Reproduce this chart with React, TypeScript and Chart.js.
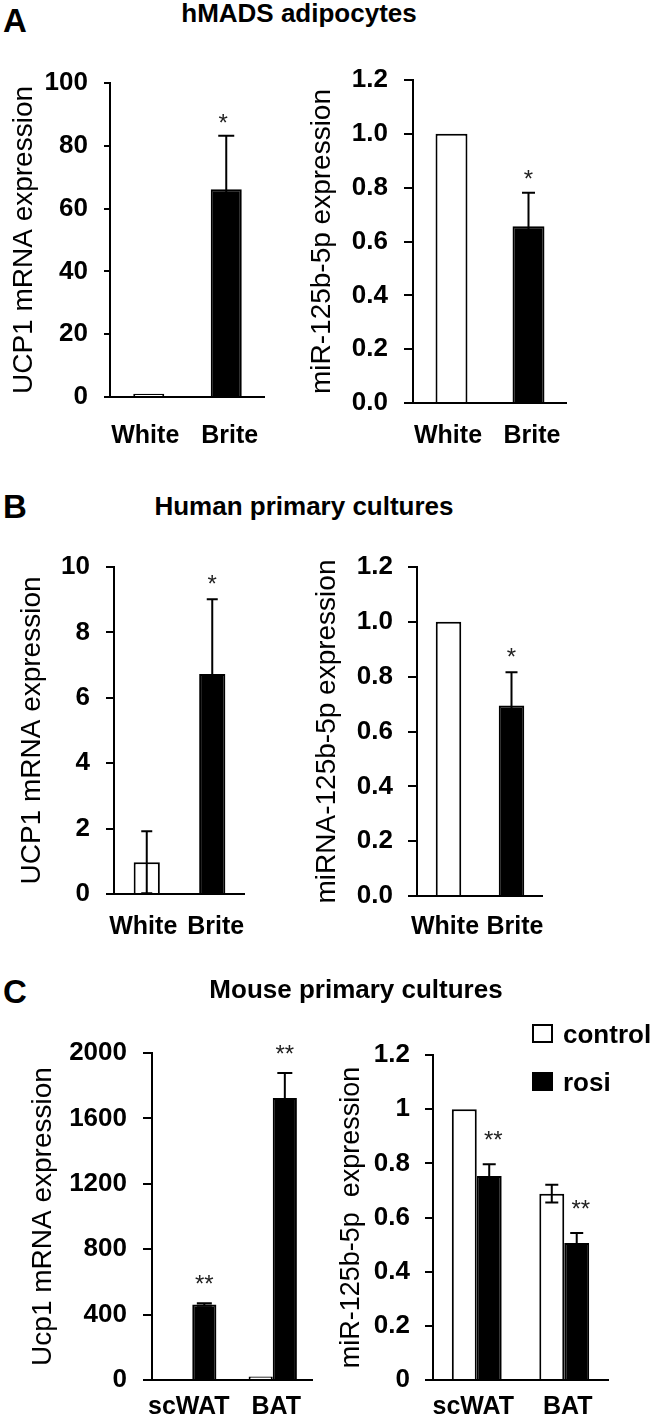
import React, { useEffect, useRef } from "react";
import { Chart, registerables } from "chart.js";

Chart.register(...registerables);

const FONT = "'Liberation Sans', Arial, Helvetica, sans-serif";

// ---------- data ----------
const CATS_WB = ["White", "Brite"];
const CATS_TISSUE = ["scWAT", "BAT"];

const A_UCP1 = [1, 66.2];
const A_UCP1_ERR = [0, 17];
const A_UCP1_SIG = ["", "*"];
const A_UCP1_TICKS = [0, 20, 40, 60, 80, 100];
const A_UCP1_TICK_LABELS = ["0", "20", "40", "60", "80", "100"];

const A_MIR = [1.0, 0.657];
const A_MIR_ERR = [0, 0.124];
const A_MIR_SIG = ["", "*"];

const B_UCP1 = [0.97, 6.73];
const B_UCP1_ERR = [0.95, 2.28];
const B_UCP1_SIG = ["", "*"];
const B_UCP1_TICKS = [0, 2, 4, 6, 8, 10];
const B_UCP1_TICK_LABELS = ["0", "2", "4", "6", "8", "10"];

const B_MIR = [1.0, 0.695];
const B_MIR_ERR = [0, 0.121];
const B_MIR_SIG = ["", "*"];

const MIR_TICKS = [0, 0.2, 0.4, 0.6, 0.8, 1.0, 1.2];
const MIR_TICK_LABELS_1DP = ["0.0", "0.2", "0.4", "0.6", "0.8", "1.0", "1.2"];
const MIR_TICK_LABELS_C = ["0", "0.2", "0.4", "0.6", "0.8", "1", "1.2"];

const C_UCP1_CONTROL = [6, 22];
const C_UCP1_CONTROL_ERR = [0, 0];
const C_UCP1_CONTROL_SIG = ["", ""];
const C_UCP1_ROSI = [462, 1725];
const C_UCP1_ROSI_ERR = [8, 153];
const C_UCP1_ROSI_SIG = ["**", "**"];
const C_UCP1_TICKS = [0, 400, 800, 1200, 1600, 2000];
const C_UCP1_TICK_LABELS = ["0", "400", "800", "1200", "1600", "2000"];

const C_MIR_CONTROL = [1.0, 0.688];
const C_MIR_CONTROL_ERR = [0, 0.033];
const C_MIR_CONTROL_SIG = ["", ""];
const C_MIR_ROSI = [0.753, 0.506];
const C_MIR_ROSI_ERR = [0.044, 0.037];
const C_MIR_ROSI_SIG = ["**", "**"];

const SERIES_NAMES = ["control", "rosi"];

// ---------- plugins ----------
const errorBarPlugin = {
  id: "errorBars",
  afterDatasetsDraw(chart: any, _a: any, opts: any) {
    const ctx = chart.ctx;
    const y = chart.scales.y;
    const cap = opts.cap || 14;
    chart.data.datasets.forEach((ds: any, i: number) => {
      const meta = chart.getDatasetMeta(i);
      meta.data.forEach((el: any, j: number) => {
        const e = ds.err ? ds.err[j] : 0;
        if (!e) return;
        const v = ds.data[j];
        const yt = y.getPixelForValue(v + e);
        const yb = y.getPixelForValue(Math.max(v - e, 0));
        ctx.save();
        ctx.strokeStyle = "#000";
        ctx.lineWidth = 2;
        ctx.beginPath();
        ctx.moveTo(el.x, yb);
        ctx.lineTo(el.x, yt);
        ctx.moveTo(el.x - cap / 2, yt);
        ctx.lineTo(el.x + cap / 2, yt);
        ctx.moveTo(el.x - cap / 2, yb);
        ctx.lineTo(el.x + cap / 2, yb);
        ctx.stroke();
        ctx.restore();
      });
    });
  },
};

const sigPlugin = {
  id: "sigMarks",
  afterDatasetsDraw(chart: any, _a: any, opts: any) {
    const ctx = chart.ctx;
    const y = chart.scales.y;
    const fs = opts.size || 24;
    chart.data.datasets.forEach((ds: any, i: number) => {
      const meta = chart.getDatasetMeta(i);
      meta.data.forEach((el: any, j: number) => {
        const s = ds.sig ? ds.sig[j] : "";
        if (!s) return;
        const v = ds.data[j] + (ds.err ? ds.err[j] : 0);
        const cy = y.getPixelForValue(v) - (opts.gap || 20);
        ctx.save();
        ctx.fillStyle = "#222";
        ctx.font = `${fs}px ${FONT}`;
        ctx.textAlign = "center";
        ctx.textBaseline = "alphabetic";
        ctx.fillText(s, el.x + (opts.dx || 0), cy + 0.575 * fs);
        ctx.restore();
      });
    });
  },
};

const boxLegendPlugin = {
  id: "boxLegend",
  afterDraw(chart: any, _a: any, opts: any) {
    if (!opts || !opts.show) return;
    const { ctx, chartArea } = chart;
    chart.data.datasets.forEach((ds: any, i: number) => {
      const base = chartArea.top + opts.rows[i];
      const bx = chartArea.right + opts.dx;
      ctx.save();
      ctx.fillStyle = ds.backgroundColor;
      ctx.fillRect(bx, base - 18, 19, 17);
      ctx.strokeStyle = "#000";
      ctx.lineWidth = 2;
      ctx.strokeRect(bx, base - 18, 19, 17);
      ctx.fillStyle = "#000";
      ctx.font = `bold 26px ${FONT}`;
      ctx.textAlign = "left";
      ctx.textBaseline = "alphabetic";
      ctx.fillText(ds.label, bx + 30, base);
      ctx.restore();
    });
  },
};

// ---------- panel specs ----------
type DS = { label: string; data: number[]; err: number[]; sig: string[]; bg: string | string[] };
type Spec = {
  left: number; top: number; width: number; height: number;
  yWidth: number; xHeight: number; padTop: number; padRight: number;
  labels: string[]; datasets: DS[];
  yTicks: number[]; yTickLabels: string[];
  yTitle: string; yTitleSize: number; yTitlePad: number;
  tickLength: number; tickPad: number; xPad: number;
  catPct: number; barPct: number;
  cap: number; sigGap: number; sigDx: number; sigSize: number;
  legend?: { show: boolean; dx: number; rows: number[] };
};

const WB_COLORS = ["#ffffff", "#000000"];

const SPECS: Spec[] = [
  {
    left: 0, top: 53, width: 265, height: 404, yWidth: 110, xHeight: 60, padTop: 30, padRight: 0,
    labels: CATS_WB,
    datasets: [{ label: "UCP1", data: A_UCP1, err: A_UCP1_ERR, sig: A_UCP1_SIG, bg: WB_COLORS }],
    yTicks: A_UCP1_TICKS, yTickLabels: A_UCP1_TICK_LABELS,
    yTitle: "UCP1 mRNA expression", yTitleSize: 28, yTitlePad: 7,
    tickLength: 6, tickPad: 16, xPad: 24, catPct: 0.8, barPct: 0.5,
    cap: 16, sigGap: 19, sigDx: -3, sigSize: 24,
  },
  {
    left: 300, top: 50, width: 267, height: 413, yWidth: 113, xHeight: 60, padTop: 30, padRight: 0,
    labels: CATS_WB,
    datasets: [{ label: "miR", data: A_MIR, err: A_MIR_ERR, sig: A_MIR_SIG, bg: WB_COLORS }],
    yTicks: MIR_TICKS, yTickLabels: MIR_TICK_LABELS_1DP,
    yTitle: "miR-125b-5p expression", yTitleSize: 28, yTitlePad: 5,
    tickLength: 9, tickPad: 16, xPad: 18, catPct: 0.83, barPct: 0.5,
    cap: 13, sigGap: 20, sigDx: 0, sigSize: 24,
  },
  {
    left: 0, top: 537, width: 245, height: 417, yWidth: 114, xHeight: 60, padTop: 30, padRight: 0,
    labels: CATS_WB,
    datasets: [{ label: "UCP1", data: B_UCP1, err: B_UCP1_ERR, sig: B_UCP1_SIG, bg: WB_COLORS }],
    yTicks: B_UCP1_TICKS, yTickLabels: B_UCP1_TICK_LABELS,
    yTitle: "UCP1 mRNA expression", yTitleSize: 28, yTitlePad: 15,
    tickLength: 8, tickPad: 16, xPad: 18, catPct: 0.8, barPct: 0.5,
    cap: 11, sigGap: 21, sigDx: 0, sigSize: 24,
  },
  {
    left: 300, top: 537, width: 243, height: 419, yWidth: 117, xHeight: 60, padTop: 30, padRight: 0,
    labels: CATS_WB,
    datasets: [{ label: "miR", data: B_MIR, err: B_MIR_ERR, sig: B_MIR_SIG, bg: WB_COLORS }],
    yTicks: MIR_TICKS, yTickLabels: MIR_TICK_LABELS_1DP,
    yTitle: "miRNA-125b-5p expression", yTitleSize: 28, yTitlePad: 10,
    tickLength: 9, tickPad: 15, xPad: 16, catPct: 0.81, barPct: 0.5,
    cap: 12, sigGap: 21, sigDx: 0, sigSize: 24,
  },
  {
    left: 0, top: 1023, width: 313, height: 398, yWidth: 152, xHeight: 41, padTop: 30, padRight: 0,
    labels: CATS_TISSUE,
    datasets: [
      { label: SERIES_NAMES[0], data: C_UCP1_CONTROL, err: C_UCP1_CONTROL_ERR, sig: C_UCP1_CONTROL_SIG, bg: "#ffffff" },
      { label: SERIES_NAMES[1], data: C_UCP1_ROSI, err: C_UCP1_ROSI_ERR, sig: C_UCP1_ROSI_SIG, bg: "#000000" },
    ],
    yTicks: C_UCP1_TICKS, yTickLabels: C_UCP1_TICK_LABELS,
    yTitle: "Ucp1 mRNA expression", yTitleSize: 28, yTitlePad: 26,
    tickLength: 9, tickPad: 16, xPad: 12, catPct: 0.6, barPct: 1,
    cap: 15, sigGap: 25, sigDx: 0, sigSize: 24,
  },
  {
    left: 320, top: 995, width: 333, height: 426, yWidth: 113, xHeight: 41, padTop: 60, padRight: 45,
    labels: CATS_TISSUE,
    datasets: [
      { label: SERIES_NAMES[0], data: C_MIR_CONTROL, err: C_MIR_CONTROL_ERR, sig: C_MIR_CONTROL_SIG, bg: "#ffffff" },
      { label: SERIES_NAMES[1], data: C_MIR_ROSI, err: C_MIR_ROSI_ERR, sig: C_MIR_ROSI_SIG, bg: "#000000" },
    ],
    yTicks: MIR_TICKS, yTickLabels: MIR_TICK_LABELS_C,
    yTitle: "miR-125b-5p  expression", yTitleSize: 27, yTitlePad: 15,
    tickLength: 8, tickPad: 15, xPad: 12, catPct: 0.57, barPct: 1,
    cap: 13, sigGap: 30, sigDx: 4, sigSize: 24,
    legend: { show: true, dx: -75, rows: [-12, 36] },
  },
];

function buildConfig(s: Spec): any {
  const last = s.yTicks.length - 1;
  return {
    type: "bar",
    data: {
      labels: s.labels,
      datasets: s.datasets.map((d) => ({
        label: d.label,
        data: d.data,
        err: d.err,
        sig: d.sig,
        backgroundColor: d.bg,
        borderColor: "#000",
        borderWidth: 2,
        categoryPercentage: s.catPct,
        barPercentage: s.barPct,
      })),
    },
    options: {
      responsive: false,
      maintainAspectRatio: false,
      devicePixelRatio: 1,
      animation: false,
      layout: { padding: { top: s.padTop, right: s.padRight, bottom: 0, left: 0 } },
      plugins: {
        legend: { display: false },
        tooltip: { enabled: false },
        errorBars: { cap: s.cap },
        sigMarks: { gap: s.sigGap, dx: s.sigDx, size: s.sigSize },
        boxLegend: s.legend || { show: false },
      },
      scales: {
        x: {
          type: "category",
          afterFit: (sc: any) => {
            sc.height = s.xHeight;
            sc.paddingLeft = 0;
            sc.paddingRight = 0;
          },
          ticks: {
            // spread the two category labels slightly apart, as in the figure
            callback: (_v: any, i: number) => (i === 0 ? s.labels[i] + " " : " " + s.labels[i]),
            font: { size: 25, weight: "bold", family: FONT },
            color: "#000",
            padding: s.xPad,
            maxRotation: 0,
            autoSkip: false,
          },
          grid: { display: false, drawTicks: false },
          border: { display: true, color: "#000", width: 2 },
        },
        y: {
          type: "linear",
          min: s.yTicks[0],
          max: s.yTicks[last],
          afterBuildTicks: (sc: any) => { sc.ticks = s.yTicks.map((v) => ({ value: v })); },
          afterFit: (sc: any) => {
            sc.width = s.yWidth;
            sc.paddingTop = 0;
            sc.paddingBottom = 0;
          },
          ticks: {
            callback: (_v: any, i: number) => s.yTickLabels[i],
            font: { size: 26, weight: "bold", family: FONT },
            color: "#000",
            padding: s.tickPad,
            autoSkip: false,
          },
          grid: {
            drawOnChartArea: false,
            drawTicks: true,
            tickLength: s.tickLength,
            tickColor: "#000",
            tickWidth: 2,
            color: "#000",
            lineWidth: 2,
          },
          border: { display: true, color: "#000", width: 2 },
          title: {
            display: true,
            text: s.yTitle,
            font: { size: s.yTitleSize, weight: "normal", family: FONT },
            color: "#000",
            padding: { top: s.yTitlePad, bottom: 0 },
          },
        },
      },
    },
    plugins: [errorBarPlugin, sigPlugin, boxLegendPlugin],
  };
}

function Panel({ spec }: { spec: Spec }) {
  const ref = useRef<HTMLCanvasElement>(null);
  useEffect(() => {
    const chart = new Chart(ref.current as HTMLCanvasElement, buildConfig(spec));
    return () => chart.destroy();
  }, [spec]);
  return (
    <canvas
      ref={ref}
      width={spec.width}
      height={spec.height}
      style={{ position: "absolute", left: spec.left, top: spec.top, width: spec.width, height: spec.height }}
    />
  );
}

function Txt({ x, baseline, text, size, center }: { x: number; baseline: number; text: string; size: number; center?: boolean }) {
  return (
    <div
      style={{
        position: "absolute",
        left: x,
        top: baseline - 0.8465 * size,
        fontFamily: FONT,
        fontWeight: "bold",
        fontSize: size,
        lineHeight: size + "px",
        whiteSpace: "nowrap",
        color: "#000",
        transform: center ? "translateX(-50%)" : undefined,
      }}
    >
      {text}
    </div>
  );
}

const PANEL_TITLES = ["hMADS adipocytes", "Human primary cultures", "Mouse primary cultures"];
const PANEL_LETTERS = ["A", "B", "C"];

export default function App() {
  return (
    <div style={{ position: "absolute", left: 0, top: 0, width: 653, height: 1421, background: "#fff", overflow: "hidden" }}>
      {SPECS.map((s, i) => (
        <Panel key={i} spec={s} />
      ))}
      <Txt x={3} baseline={32} text={PANEL_LETTERS[0]} size={33} />
      <Txt x={3} baseline={518} text={PANEL_LETTERS[1]} size={33} />
      <Txt x={3} baseline={1003} text={PANEL_LETTERS[2]} size={33} />
      <Txt x={299} baseline={22} text={PANEL_TITLES[0]} size={26} center />
      <Txt x={304} baseline={515} text={PANEL_TITLES[1]} size={26} center />
      <Txt x={356} baseline={998} text={PANEL_TITLES[2]} size={26} center />
    </div>
  );
}
